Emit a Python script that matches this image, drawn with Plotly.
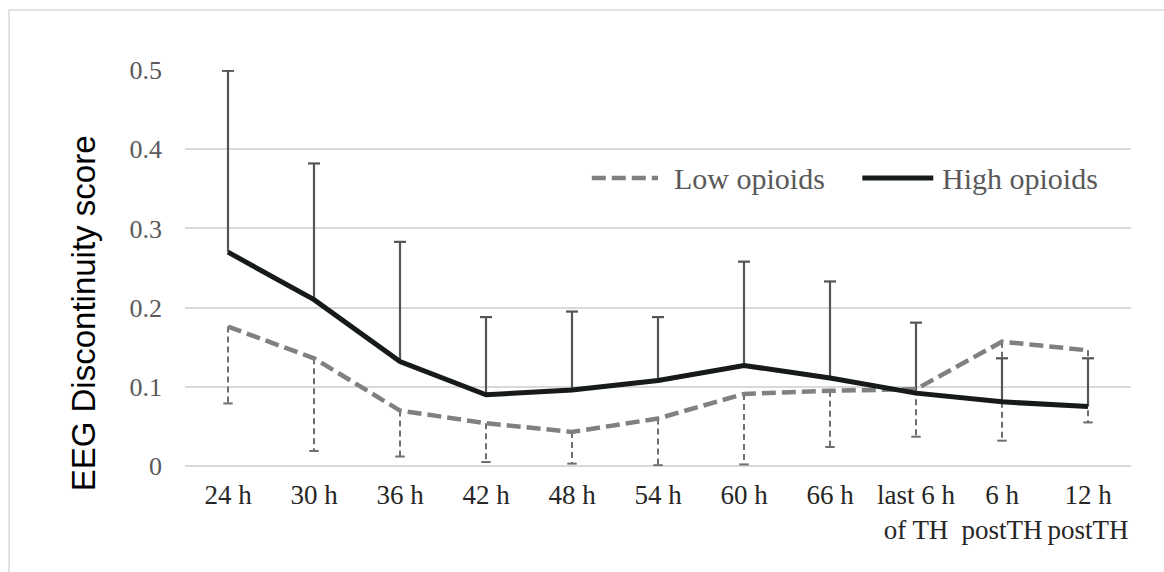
import plotly.graph_objects as go

# Time points (x tick labels)
time_labels = ["24 h", "30 h", "36 h", "42 h", "48 h", "54 h", "60 h", "66 h",
               "last 6 h<br>of TH", "6 h<br>postTH", "12 h<br>postTH"]

# Mean EEG discontinuity score and SD per group
low_mean = [0.176, 0.136, 0.070, 0.054, 0.043, 0.060, 0.091, 0.095, 0.097, 0.157, 0.146]
low_sd = [0.097, 0.117, 0.058, 0.049, 0.040, 0.059, 0.089, 0.071, 0.060, 0.125, 0.091]
high_mean = [0.270, 0.210, 0.132, 0.090, 0.096, 0.108, 0.127, 0.111, 0.092, 0.081, 0.075]
high_sd = [0.229, 0.172, 0.151, 0.098, 0.099, 0.080, 0.131, 0.122, 0.089, 0.055, 0.061]

y_ticks = [0, 0.1, 0.2, 0.3, 0.4, 0.5]
y_tick_text = ["0", "0.1", "0.2", "0.3", "0.4", "0.5"]

series_names = ["Low opioids", "High opioids"]

LOW_COLOR = "#808080"
LOW_ERR_COLOR = "#6e6e6e"
HIGH_COLOR = "#161a1a"
HIGH_ERR_COLOR = "#555555"
TEXT_GRAY = "#595959"
GRID = "#d9d9d9"
SERIF = "Liberation Serif, Times New Roman, serif"
SANS = "Liberation Sans, Arial, sans-serif"

xs = list(range(len(time_labels)))


def whiskers(means, sds, direction, cap_half):
    """One-sided SD whiskers: stem segments and end-cap segments."""
    sx, sy, cx, cy = [], [], [], []
    for i, (m, s) in enumerate(zip(means, sds)):
        end = m + direction * s
        sx += [i, i, None]
        sy += [m, end, None]
        cx += [i - cap_half, i + cap_half, None]
        cy += [end, end, None]
    return sx, sy, cx, cy


fig = go.Figure()

# Low-opioid group: dashed whiskers pointing down
lsx, lsy, lcx, lcy = whiskers(low_mean, low_sd, -1, 0.055)
fig.add_trace(go.Scatter(x=lsx, y=lsy, mode="lines", hoverinfo="skip",
                         line=dict(color=LOW_ERR_COLOR, width=2, dash="6px,4px"),
                         showlegend=False))
fig.add_trace(go.Scatter(x=lcx, y=lcy, mode="lines", hoverinfo="skip",
                         line=dict(color=LOW_ERR_COLOR, width=2),
                         showlegend=False))

# High-opioid group: solid whiskers pointing up
hsx, hsy, hcx, hcy = whiskers(high_mean, high_sd, 1, 0.07)
fig.add_trace(go.Scatter(x=hsx + hcx, y=hsy + hcy, mode="lines", hoverinfo="skip",
                         line=dict(color=HIGH_ERR_COLOR, width=2.2),
                         showlegend=False))

fig.add_trace(go.Scatter(
    x=xs, y=low_mean, mode="lines", name=series_names[0],
    line=dict(color=LOW_COLOR, width=4.5, dash="14px,6px"),
    showlegend=False,
))
fig.add_trace(go.Scatter(
    x=xs, y=high_mean, mode="lines", name=series_names[1],
    line=dict(color=HIGH_COLOR, width=5),
    showlegend=False,
))

# Legend drawn as line samples plus labels
legend_y = 0.727
legend_items = [
    (0.430, 0.500, 0.515, LOW_COLOR, "14px,6px", 4.5, series_names[0]),
    (0.716, 0.791, 0.798, HIGH_COLOR, "solid", 5, series_names[1]),
]
for x0, x1, xt, color, dash, width, label in legend_items:
    fig.add_shape(type="line", xref="paper", yref="paper",
                  x0=x0, x1=x1, y0=legend_y, y1=legend_y,
                  line=dict(color=color, width=width, dash=dash))
    fig.add_annotation(xref="paper", yref="paper", x=xt, y=legend_y,
                       xanchor="left", yanchor="middle", showarrow=False,
                       text=label, font=dict(family=SERIF, size=30, color=TEXT_GRAY))

# Y-axis title
fig.add_annotation(xref="paper", yref="paper", x=-0.107, y=0.385,
                   xanchor="center", yanchor="middle", showarrow=False,
                   textangle=-90, text="EEG Discontinuity score",
                   font=dict(family=SANS, size=33, color="#000000"))

# Outer chart border
fig.add_shape(type="rect", xref="paper", yref="paper",
              x0=-0.186, x1=1.05, y0=-0.3, y1=1.1515,
              line=dict(color=GRID, width=1.5), layer="below")

fig.update_layout(
    width=1164, height=572, autosize=False,
    margin=dict(l=185, r=33, t=70, b=106),
    paper_bgcolor="white", plot_bgcolor="white",
    showlegend=False,
)
fig.update_xaxes(
    range=[-0.5, 10.5], tickmode="array", tickvals=xs, ticktext=time_labels,
    showgrid=False, zeroline=False, showline=False, ticks="",
    tickfont=dict(family=SERIF, size=27, color="#262626"),
    ticklabelstandoff=10,
)
fig.update_yaxes(
    range=[0, 0.5], tickmode="array", tickvals=y_ticks, ticktext=y_tick_text,
    showgrid=True, gridcolor=GRID, gridwidth=2,
    zeroline=True, zerolinecolor=GRID, zerolinewidth=2, showline=False,
    ticks="", tickfont=dict(family=SERIF, size=26, color=TEXT_GRAY),
    ticklabelstandoff=22,
)

fig.write_html("out.html")
